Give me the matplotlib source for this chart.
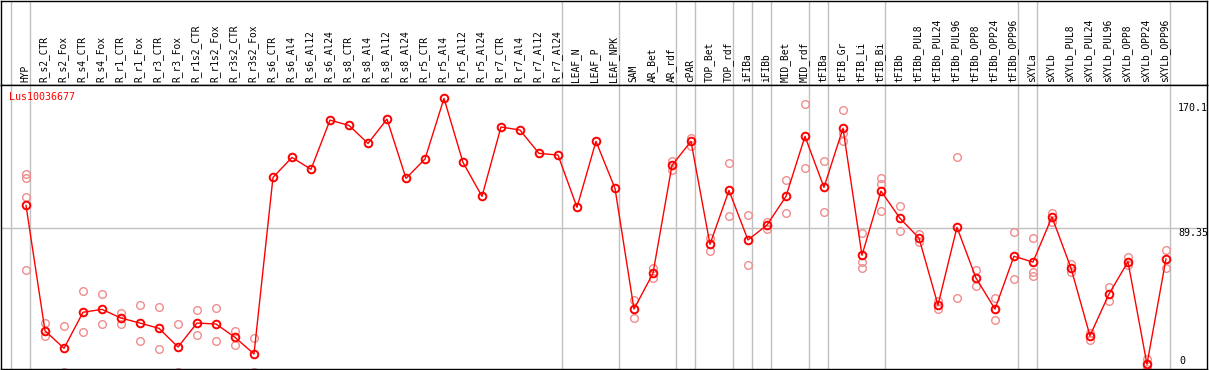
import matplotlib
matplotlib.use('Agg')
import matplotlib.pyplot as plt
import matplotlib.transforms as mtransforms

# ================= 数据 =================
gene = 'Lus10036677'

categories = ['HYP', 'R_s2_CTR', 'R_s2_Fox', 'R_s4_CTR', 'R_s4_Fox', 'R_r1_CTR', 'R_r1_Fox',
              'R_r3_CTR', 'R_r3_Fox', 'R_r1s2_CTR', 'R_r1s2_Fox', 'R_r3s2_CTR', 'R_r3s2_Fox',
              'R_s6_CTR', 'R_s6_Al4', 'R_s6_Al12', 'R_s6_Al24', 'R_s8_CTR', 'R_s8_Al4',
              'R_s8_Al12', 'R_s8_Al24', 'R_r5_CTR', 'R_r5_Al4', 'R_r5_Al12', 'R_r5_Al24',
              'R_r7_CTR', 'R_r7_Al4', 'R_r7_Al12', 'R_r7_Al24', 'LEAF_N', 'LEAF_P', 'LEAF_NPK',
              'SAM', 'AR_Bet', 'AR_rdf', 'cPAR', 'TOP_Bet', 'TOP_rdf', 'iFIBa', 'iFIBb',
              'MID_Bet', 'MID_rdf', 'tFIBa', 'tFIB_Gr', 'tFIB_Li', 'tFIB_Bi', 'tFIBb',
              'tFIBb_PUL8', 'tFIBb_PUL24', 'tFIBb_PUL96', 'tFIBb_OPP8', 'tFIBb_OPP24',
              'tFIBb_OPP96', 'sXYLa', 'sXYLb', 'sXYLb_PUL8', 'sXYLb_PUL24', 'sXYLb_PUL96',
              'sXYLb_OPP8', 'sXYLb_OPP24', 'sXYLb_OPP96']

means = [103.6, 25.7, 14.8, 37.2, 39.0, 33.6, 30.5, 27.2, 15.6, 30.5, 29.9, 21.6, 11.3,
         121.0, 133.4, 126.0, 156.6, 153.3, 142.1, 157.2, 120.4, 132.4, 170.1, 130.3, 109.2,
         152.3, 150.4, 135.9, 134.9, 102.4, 143.4, 114.2,
         39.2, 61.4, 128.5, 143.4, 79.4, 112.9, 82.1, 91.4, 109.2, 146.5, 114.8, 151.5,
         72.6, 112.5, 95.6, 83.3, 41.7, 90.0, 58.5, 39.2, 72.0, 68.4, 96.4, 64.7, 22.6,
         48.5, 68.6, 4.9, 70.3]

replicates = [
    [122.9, 120.4, 108.6, 63.3],   # HYP
    [30.5, 22.3], [28.6, 0.0], [50.2, 24.7], [48.4, 29.7], [36.7, 29.7], [41.5, 19.2],
    [40.3, 14.2], [29.7, 0.0], [38.4, 22.9], [39.8, 19.5], [25.5, 17.0], [21.0, 0.0],
    [], [], [], [], [], [], [], [], [], [], [], [], [], [], [], [],   # R_s6 ... R_r7
    [], [], [],                                                      # LEAF
    [44.8, 33.4], [64.7, 58.3], [131.2, 125.7], [145.6, 140.7], [83.1, 75.4],
    [129.7, 96.8], [97.4, 66.4], [93.4, 88.9], [119.2, 98.7], [166.6, 126.6],
    [131.0, 99.5], [162.6, 148.4, 143.4], [86.2, 68.4, 64.7], [120.6, 116.9, 100.1],
    [103.0, 87.5], [85.8, 81.0], [44.2, 39.2], [133.4, 45.9], [63.3, 53.3],
    [45.9, 32.2], [86.9, 57.7], [83.1, 62.2, 59.5], [99.0, 93.4], [67.2, 62.0],
    [24.1, 20.0], [52.9, 44.4], [71.7, 66.6], [8.2, 4.4, 2.1], [75.7, 64.5],
]

# 组分隔线（在该索引之后）
group_bounds = [-1, 0, 28, 31, 34, 35, 37, 38, 39, 41, 42, 45, 52, 53, 60]

y_tick_vals = [170.1, 89.35, 0]
y_tick_text = ['170.1', '89.35', '0']

# ================= 绘图 =================
W, H = 1209, 370
fig = plt.figure(figsize=(W / 100, H / 100), dpi=100)
ax_h = fig.add_axes([1 / W, 285 / H, 1206 / W, 84 / H])
ax = fig.add_axes([1 / W, 1 / H, 1206 / W, 284 / H])

mono = 'DejaVu Sans Mono'
grid_c = '#c0c0c0'
x = list(range(len(categories)))

for a in (ax, ax_h):
    a.set_xlim(-1.316, 62.16)
    a.set_xticks([])
    a.set_yticks([])
    for s in a.spines.values():
        s.set_linewidth(1)
        s.set_color('black')
    for b in group_bounds:
        a.axvline(b + 0.22, color=grid_c, lw=1, zorder=0)

# 表头：竖排样本名
ax_h.set_ylim(0, 1)
for i, c in enumerate(categories):
    ax_h.text(i - 0.05, 0.035, c, rotation=90, ha='center', va='bottom',
              fontsize=6.9, family=mono, color='black')

# 主图
ax.set_ylim(1.95, 178.4)
ax.axhline(89.35, color=grid_c, lw=1, zorder=0)

for i, reps in enumerate(replicates):
    if reps:
        ax.plot([i] * len(reps), reps, 'o', mfc='none', mec='#f08c8c',
                ms=5.5, mew=1.0, zorder=2)
ax.plot(x, means, '-', color='red', lw=1, zorder=3)
ax.plot(x, means, 'o', mfc='none', mec='red', ms=5.5, mew=1.4, zorder=4)

ax.text(0.0066, 0.958, gene, transform=ax.transAxes, color='red',
        fontsize=7.2, family=mono, ha='left', va='center')

trans = mtransforms.blended_transform_factory(ax.transAxes, ax.transData)
ax.annotate(y_tick_text[0], xy=(0.976, y_tick_vals[0]), xycoords=trans,
            xytext=(0, -3), textcoords='offset points', ha='left', va='top',
            fontsize=7.2, family=mono, annotation_clip=False)
ax.annotate(y_tick_text[1], xy=(0.976, y_tick_vals[1]), xycoords=trans,
            xytext=(0, 0.5), textcoords='offset points', ha='left', va='top',
            fontsize=7.2, family=mono, annotation_clip=False)
ax.text(0.9775, 0.012, y_tick_text[2], transform=ax.transAxes, ha='left', va='bottom',
        fontsize=7.2, family=mono)

fig.savefig('out.png', dpi=100)
